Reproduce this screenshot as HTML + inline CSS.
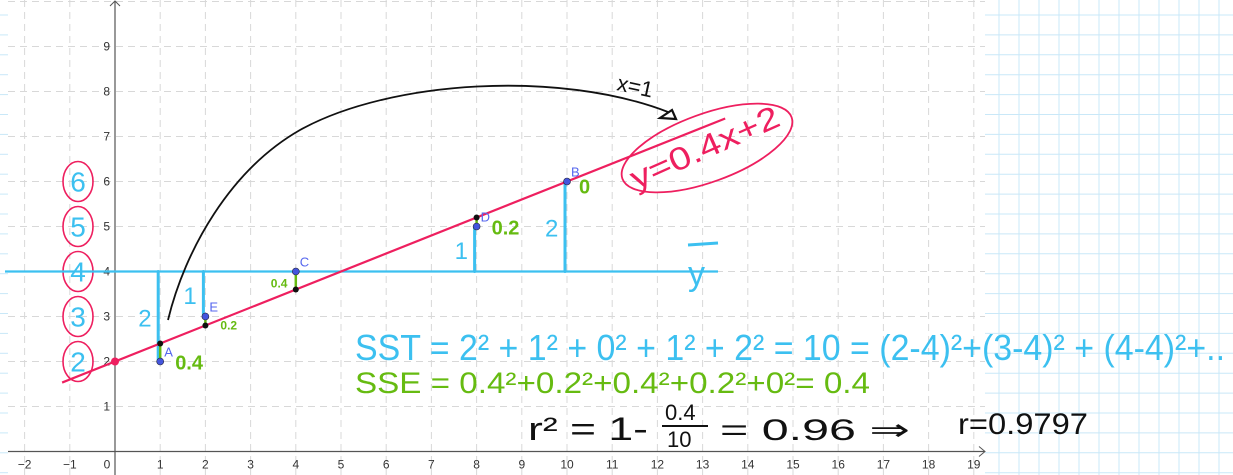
<!DOCTYPE html>
<html><head><meta charset="utf-8">
<style>
html,body{margin:0;padding:0;background:#fff;}
svg{display:block;}
.hand{font-family:"Liberation Sans",sans-serif;}
</style></head>
<body>
<svg id="chart" width="1233" height="475" viewBox="0 0 1233 475" xmlns="http://www.w3.org/2000/svg">
  <g id="paper"></g>
  <g id="grid"></g>
  <g id="axes"></g>
  <g id="marks"></g>
  <g id="notes">
    <path d="M168,320 C185,250 230,170 300,130 C390,80 560,70 668,112" fill="none" stroke="#111" stroke-width="1.8"/>
    <path d="M660,118 L672,110 L676,119 Z" fill="none" stroke="#111" stroke-width="2.2"/>
    <text class="hand" x="616" y="90" font-size="22" fill="#111" transform="rotate(12 616 90)">x=1</text>
    <ellipse cx="707" cy="148" rx="90" ry="34" transform="rotate(-20 707 148)" fill="none" stroke="#ee1f5f" stroke-width="1.8"/>
    <text class="hand" x="636" y="190" font-size="32" fill="#ee1f5f" transform="rotate(-24 636 190)" textLength="160" lengthAdjust="spacingAndGlyphs">y=0.4x+2</text>
    <text class="hand" x="688" y="285" font-size="34" fill="#3cc0f0">y</text>
    <line x1="688" y1="245" x2="718" y2="243" stroke="#3cc0f0" stroke-width="3"/>
    <text class="hand" x="355" y="360" font-size="36" fill="#3cc0f0" textLength="870" lengthAdjust="spacingAndGlyphs">SST = 2² + 1² + 0² + 1² + 2² = 10 = (2-4)²+(3-4)² + (4-4)²+..</text>
    <text class="hand" x="355" y="393" font-size="30" fill="#66bb11" textLength="515" lengthAdjust="spacingAndGlyphs">SSE = 0.4²+0.2²+0.4²+0.2²+0²= 0.4</text>
    <text class="hand" x="528" y="440" font-size="32" fill="#111" textLength="120" lengthAdjust="spacingAndGlyphs">r² = 1-</text>
    <text class="hand" x="665" y="420" font-size="22" fill="#111">0.4</text>
    <line x1="662" y1="426" x2="708" y2="426" stroke="#111" stroke-width="2"/>
    <text class="hand" x="667" y="447" font-size="22" fill="#111">10</text>
    <text class="hand" x="720" y="440" font-size="30" fill="#111" textLength="190" lengthAdjust="spacingAndGlyphs">=  0.96 ⇒</text>
    <text class="hand" x="958" y="434" font-size="30" fill="#111" textLength="130" lengthAdjust="spacingAndGlyphs">r=0.9797</text>
  </g>
</svg>
<script>
// data
const xs = [1, 2, 4, 8, 10];
const ys = [2, 3, 4, 5, 6];
const pointNames = ["A", "E", "C", "D", "B"];
const slope = [0.4];
const intercept = [2];
const meanY = [4];
const residualLabels = ["0.4", "0.2", "0.4", "0.2", "0"];
const deviationLabels = ["2", "1", "0", "1", "2"];
const xTicks = [-2,-1,0,1,2,3,4,5,6,7,8,9,10,11,12,13,14,15,16,17,18,19];
const yTicks = [1,2,3,4,5,6,7,8,9];
const circledY = [2,3,4,5,6];

const X0 = 115, Y0 = 451.5, UX = 45.2, UY = 45;
const sx = v => X0 + v * UX;
const sy = v => Y0 - v * UY;
const NS = "http://www.w3.org/2000/svg";
function mk(parent, tag, attrs) {
  const e = document.createElementNS(NS, tag);
  for (const k in attrs) e.setAttribute(k, attrs[k]);
  parent.appendChild(e);
  return e;
}
const paper = document.getElementById('paper');
const grid = document.getElementById('grid');
const axes = document.getElementById('axes');
const marks = document.getElementById('marks');

for (let x = 999; x < 1233; x += 20) {
  const l = mk(paper, 'line', {x1:x, y1:0, x2:x, y2:475, stroke:'#c9e8f8', 'stroke-width':1});
  
  
}
for (let y = 15; y < 475; y += 19.9) {
  const l = mk(paper, 'line', {x1:985, y1:y, x2:1233, y2:y, stroke:'#c9e8f8', 'stroke-width':1});
  
  
  const s = mk(paper, 'line', {x1:0, y1:y, x2:8, y2:y, stroke:'#c9e8f8', 'stroke-width':1});
  
  
}
for (const t of xTicks) {
  if (t === 0) continue;
  const l = mk(grid, 'line', {x1:sx(t), y1:0, x2:sx(t), y2:475, stroke:'#d8d8d8', 'stroke-width':1, 'stroke-dasharray':'7,5'});
  
  
}
for (const t of yTicks.concat([10])) {
  const l = mk(grid, 'line', {x1:8, y1:sy(t), x2:985, y2:sy(t), stroke:'#d8d8d8', 'stroke-width':1, 'stroke-dasharray':'7,5'});
  
  
}
let a = mk(axes, 'line', {x1:8, y1:Y0, x2:985, y2:Y0, stroke:'#555', 'stroke-width':1.2});


a = mk(axes, 'path', {d:`M979,${Y0-5} L985,${Y0} L979,${Y0+5}`, fill:'none', stroke:'#555'});


a = mk(axes, 'line', {x1:X0, y1:1, x2:X0, y2:475, stroke:'#555', 'stroke-width':1.2});


a = mk(axes, 'path', {d:`M${X0-5},6 L${X0},1 L${X0+5},6`, fill:'none', stroke:'#555'});


for (const t of xTicks) {
  const tx = mk(axes, 'text', {x: t===0 ? sx(t)-8 : sx(t), y:Y0+17, 'font-size':12, fill:'#333', 'text-anchor':'middle', 'font-family':'Liberation Sans, sans-serif'});
  tx.textContent = t < 0 ? '\u2212' + (-t) : String(t);
  
  
}
for (const t of yTicks) {
  const tx = mk(axes, 'text', {x:X0-5, y:sy(t)+4, 'font-size':12, fill:'#333', 'text-anchor':'end', 'font-family':'Liberation Sans, sans-serif'});
  tx.textContent = String(t);
  
  
}
for (const v of circledY) {
  const c = mk(marks, 'ellipse', {cx:78, cy:sy(v), rx:15, ry:20, fill:'none', stroke:'#ee1f5f', 'stroke-width':1.6});
  
  
  const t = mk(marks, 'text', {x:78, y:sy(v)+10, 'font-size':28, fill:'#3cc0f0', 'text-anchor':'middle', 'font-family':'Liberation Sans, sans-serif'});
  t.textContent = String(v);
  
  
}
let m = mk(marks, 'line', {x1:5, y1:sy(meanY[0]), x2:718, y2:sy(meanY[0]), stroke:'#3cc0f0', 'stroke-width':2.2});


xs.forEach((x, i) => {
  if (ys[i] === meanY[0]) return;
  const l = mk(marks, 'line', {x1:sx(x)-2, y1:sy(meanY[0]), x2:sx(x)-2, y2:sy(ys[i]), stroke:'#3cc0f0', 'stroke-width':3, 'stroke-linecap':'round'});
  
  
  const t = mk(marks, 'text', {x:sx(x)-22, y:(sy(meanY[0])+sy(ys[i]))/2+10, 'font-size':24, fill:'#3cc0f0', 'font-family':'Liberation Sans, sans-serif'});
  t.textContent = deviationLabels[i];
  
  
});
const xa = -1.17, xb = 13.5;
m = mk(marks, 'line', {x1:sx(xa), y1:sy(slope[0]*xa+intercept[0]), x2:sx(xb), y2:sy(slope[0]*xb+intercept[0]), stroke:'#ee1f5f', 'stroke-width':2.2});


m = mk(marks, 'circle', {cx:sx(0), cy:sy(intercept[0]), r:4, fill:'#ee1f5f'});


xs.forEach((x, i) => {
  const yh = slope[0]*x + intercept[0];
  const r = mk(marks, 'line', {x1:sx(x), y1:sy(ys[i]), x2:sx(x), y2:sy(yh), stroke:'#66bb11', 'stroke-width':2.5});
  
  
  const f = mk(marks, 'circle', {cx:sx(x), cy:sy(yh), r:3, fill:'#111'});
  
  
  const p = mk(marks, 'circle', {cx:sx(x), cy:sy(ys[i]), r:3.5, fill:'#4455dd', stroke:'#223', 'stroke-width':0.6});
  
  
  const n = mk(marks, 'text', {x:sx(x)+4, y:sy(ys[i])-5, 'font-size':13, fill:'#5566ee', 'font-family':'Liberation Sans, sans-serif'});
  n.textContent = pointNames[i];
  
  
  const small = (i === 1 || i === 2);
  const rl = mk(marks, 'text', {x: i===2 ? sx(x)-25 : sx(x)+ (i===4?12:15), y: i===2 ? sy(ys[i])+16 : sy(ys[i]) + (small?13:(i===4?12:8)), 'font-size': small?12:20, 'font-weight':'bold', fill:'#66bb11', 'font-family':'Liberation Sans, sans-serif'});
  rl.textContent = residualLabels[i];
  
  
});
</script>
</body></html>
